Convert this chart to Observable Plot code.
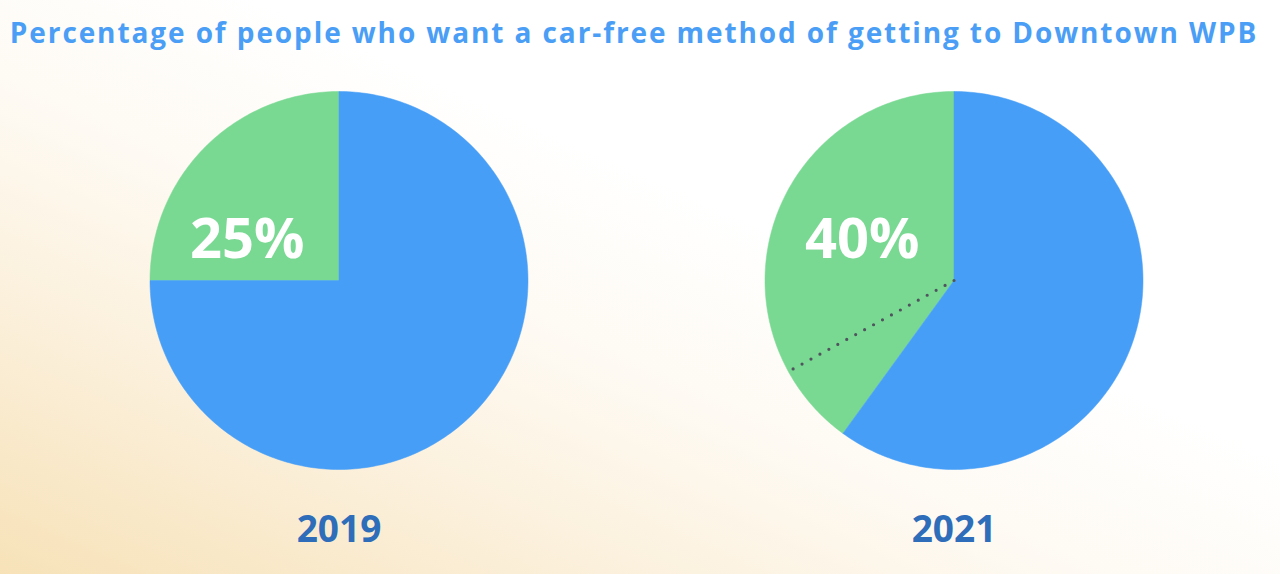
<!DOCTYPE html>
<html>
<head>
<meta charset="utf-8">
<script src="https://cdn.jsdelivr.net/npm/d3@7"></script>
<script src="https://cdn.jsdelivr.net/npm/@observablehq/plot@0.6"></script>
<style>
  html, body { margin: 0; padding: 0; }
  body {
    width: 1280px; height: 574px; overflow: hidden;
    background: linear-gradient(to top right, #f7e2b8 0%, #fbefd9 22%, #fefaf3 42%, #ffffff 60%, #ffffff 100%);
    font-family: "Open Sans", sans-serif;
  }
  #title {
    height: 46px; padding-top: 18px; box-sizing: content-box;
    font-family: "Open Sans", sans-serif; font-weight: 700; font-size: 28px; line-height: 28px;
    color: #4a9ef5; text-align: center; white-space: nowrap;
    letter-spacing: 1.9px; margin-left: -12px;
  }
</style>
</head>
<body>
<div id="title">Percentage of people who want a car-free method of getting to Downtown WPB</div>
<div id="chart"></div>
<script>
// ---- data ----
const years = ["2019", "2021"];
const carFreePct = [25, 40];          // green slice
const dividerPct = [null, 33];        // dotted divider line inside the 2021 green slice
const sliceNames = ["car-free", "other"];
const sliceColors = ["#79d992", "#479ef7"];

// ---- build slice polygons from the values ----
function pointAt(frac, r = 1) {
  const a = frac * 2 * Math.PI;       // counterclockwise from 12 o'clock
  return { x: -Math.sin(a) * r, y: Math.cos(a) * r };
}
const slicePts = [];
years.forEach((yr, i) => {
  const g = carFreePct[i] / 100;
  const ranges = [[0, g], [g, 1]];
  ranges.forEach(([a0, a1], k) => {
    const id = yr + "-" + sliceNames[k];
    slicePts.push({ year: yr, slice: sliceNames[k], id, x: 0, y: 0 });
    const n = Math.max(2, Math.ceil((a1 - a0) * 360));
    for (let j = 0; j <= n; j++) {
      const p = pointAt(a0 + (a1 - a0) * j / n);
      slicePts.push({ year: yr, slice: sliceNames[k], id, x: p.x, y: p.y });
    }
    slicePts.push({ year: yr, slice: sliceNames[k], id, x: 0, y: 0 });
  });
});
const dividerPts = [];
years.forEach((yr, i) => {
  if (dividerPct[i] == null) return;
  const p = pointAt(dividerPct[i] / 100, 0.985);
  dividerPts.push({ year: yr, x: 0, y: 0 }, { year: yr, x: p.x, y: p.y });
});
const labels = years.map((yr, i) => ({ year: yr, pct: carFreePct[i] + "%" }));

const R = 189; // pie radius in px
const plot = Plot.plot({
  width: 1280,
  height: 510,
  marginLeft: 30.5,
  marginRight: 19.5,
  marginTop: 0,
  marginBottom: 0,
  style: { background: "transparent", overflow: "visible" },
  fx: { domain: years, padding: 0, axis: null },
  x: { domain: [-307.5 / R, 307.5 / R], axis: null },
  y: { domain: [-(510 - 216) / R, 216 / R], axis: null },
  color: { domain: sliceNames, range: sliceColors },
  marks: [
    Plot.line(slicePts, { fx: "year", x: "x", y: "y", z: "id", fill: "slice", stroke: "slice", strokeWidth: 0.5, curve: "linear" }),
    Plot.line(dividerPts, { fx: "year", x: "x", y: "y", stroke: "#50545e", strokeWidth: 3.2, strokeDasharray: "0 10.2", strokeLinecap: "round" }),
    Plot.text(labels, { fx: "year", x: () => -0.485, y: () => 0.12, text: "pct", fill: "white", fontSize: 56, fontWeight: 700, fontFamily: "Open Sans", textAnchor: "middle", lineAnchor: "bottom" }),
    Plot.text(labels, { fx: "year", x: () => 0, y: () => -(477 - 216) / R, text: "year", fill: "#2e6db9", fontSize: 37, fontWeight: 700, fontFamily: "Open Sans", textAnchor: "middle", lineAnchor: "bottom" })
  ]
});
document.getElementById("chart").appendChild(plot);
</script>
</body>
</html>
